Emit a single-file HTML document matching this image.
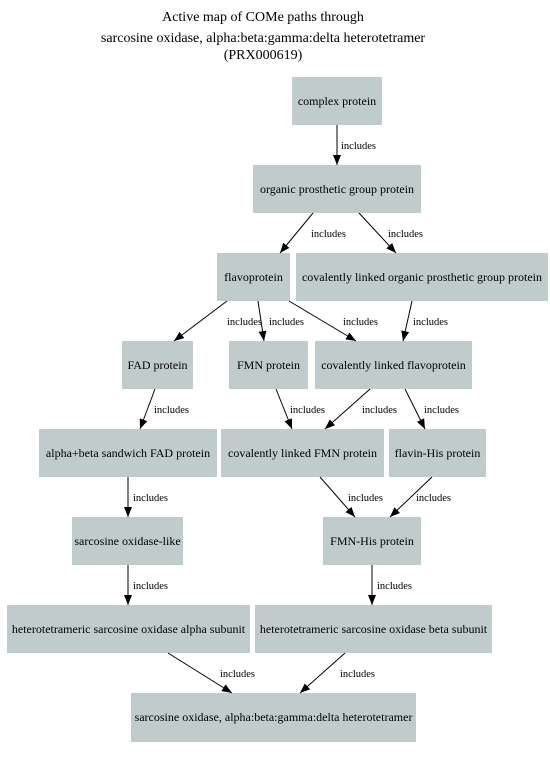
<!DOCTYPE html>
<html><head><meta charset="utf-8"><style>body{margin:0;background:#fff}svg{display:block}</style></head><body>
<svg width="550" height="758" xmlns="http://www.w3.org/2000/svg" font-family="Liberation Serif, serif">
<defs><marker id="a" markerWidth="10" markerHeight="8" refX="10" refY="4" orient="auto" markerUnits="userSpaceOnUse"><path d="M0,0 L10,4 L0,8 z" fill="#000"/></marker></defs>
<g font-size="14" text-anchor="middle" fill="#000">
<text x="263" y="21">Active map of COMe paths through</text>
<text x="263" y="42">sarcosine oxidase, alpha:beta:gamma:delta heterotetramer</text>
<text x="263" y="59">(PRX000619)</text>
</g>
<g fill="#c0cbcb">
<rect x="292" y="77" width="90" height="48"/>
<rect x="253" y="165" width="168" height="48"/>
<rect x="217" y="253" width="73" height="48"/>
<rect x="296" y="253" width="252" height="48"/>
<rect x="122" y="341" width="71" height="48"/>
<rect x="229" y="341" width="79" height="48"/>
<rect x="315" y="341" width="157" height="48"/>
<rect x="39" y="429" width="178" height="48"/>
<rect x="221" y="429" width="163" height="48"/>
<rect x="389" y="429" width="97" height="48"/>
<rect x="72" y="517" width="111" height="48"/>
<rect x="323" y="517" width="98" height="48"/>
<rect x="7" y="605" width="243" height="48"/>
<rect x="255" y="605" width="237" height="48"/>
<rect x="131" y="693" width="285" height="49"/>
</g>
<g font-size="12" text-anchor="middle" fill="#000">
<text x="337" y="105">complex protein</text>
<text x="337" y="193">organic prosthetic group protein</text>
<text x="253.5" y="281">flavoprotein</text>
<text x="422" y="281">covalently linked organic prosthetic group protein</text>
<text x="157.5" y="369">FAD protein</text>
<text x="268.5" y="369">FMN protein</text>
<text x="393.5" y="369">covalently linked flavoprotein</text>
<text x="128" y="457">alpha+beta sandwich FAD protein</text>
<text x="302.5" y="457">covalently linked FMN protein</text>
<text x="437.5" y="457">flavin-His protein</text>
<text x="127.5" y="545">sarcosine oxidase-like</text>
<text x="372" y="545">FMN-His protein</text>
<text x="128.5" y="633">heterotetrameric sarcosine oxidase alpha subunit</text>
<text x="373.5" y="633">heterotetrameric sarcosine oxidase beta subunit</text>
<text x="273.5" y="721">sarcosine oxidase, alpha:beta:gamma:delta heterotetramer</text>
</g>
<g stroke="#000" stroke-width="1" marker-end="url(#a)">
<line x1="337" y1="125" x2="337" y2="165"/>
<line x1="313" y1="213" x2="280" y2="253"/>
<line x1="359" y1="213" x2="396" y2="253"/>
<line x1="227" y1="301" x2="174" y2="341"/>
<line x1="258" y1="301" x2="264" y2="341"/>
<line x1="289" y1="301" x2="356" y2="341"/>
<line x1="412" y1="301" x2="403" y2="341"/>
<line x1="155" y1="389" x2="140" y2="429"/>
<line x1="276" y1="389" x2="292" y2="429"/>
<line x1="370" y1="389" x2="325" y2="429"/>
<line x1="405" y1="389" x2="425" y2="429"/>
<line x1="128" y1="477" x2="128" y2="517"/>
<line x1="320" y1="477" x2="355" y2="517"/>
<line x1="432" y1="477" x2="390" y2="517"/>
<line x1="128" y1="565" x2="128" y2="605"/>
<line x1="372" y1="565" x2="372" y2="605"/>
<line x1="168" y1="653" x2="232" y2="693"/>
<line x1="345" y1="653" x2="300" y2="693"/>
</g>
<g font-size="10.5" fill="#000">
<text x="341" y="149">includes</text>
<text x="311" y="237">includes</text>
<text x="388" y="237">includes</text>
<text x="227" y="325">includes</text>
<text x="269" y="325">includes</text>
<text x="343" y="325">includes</text>
<text x="413" y="325">includes</text>
<text x="154" y="413">includes</text>
<text x="290" y="413">includes</text>
<text x="362" y="413">includes</text>
<text x="424" y="413">includes</text>
<text x="133" y="501">includes</text>
<text x="348" y="501">includes</text>
<text x="416" y="501">includes</text>
<text x="133" y="589">includes</text>
<text x="377" y="589">includes</text>
<text x="220" y="677">includes</text>
<text x="340" y="677">includes</text>
</g>
</svg>
</body></html>
